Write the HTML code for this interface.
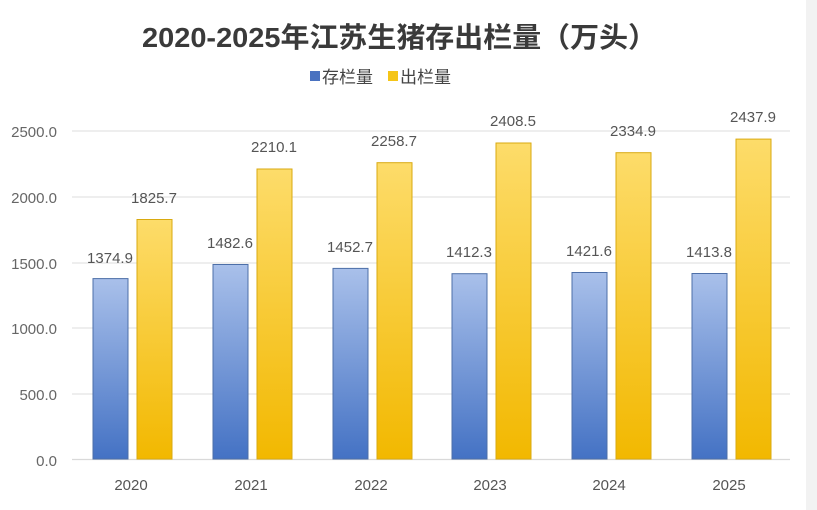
<!DOCTYPE html>
<html><head><meta charset="utf-8"><style>
html,body{margin:0;padding:0;background:#fff;}
svg{display:block;}
</style></head><body>
<svg width="817" height="510" viewBox="0 0 817 510" xmlns="http://www.w3.org/2000/svg">
<defs>
<linearGradient id="gb" x1="0" y1="0" x2="0" y2="1"><stop offset="0" stop-color="#a9c0ea"/><stop offset="1" stop-color="#4472c4"/></linearGradient>
<linearGradient id="gy" x1="0" y1="0" x2="0" y2="1"><stop offset="0" stop-color="#fddc6a"/><stop offset="1" stop-color="#f2b800"/></linearGradient>
</defs>
<rect x="0" y="0" width="817" height="510" fill="#fff"/>
<rect x="806" y="0" width="11" height="510" fill="#f2f2f2"/>
<text x="142" y="47" textLength="515" lengthAdjust="spacingAndGlyphs" font-family="Liberation Sans, Noto Sans CJK SC, sans-serif" font-size="28" font-weight="bold" fill="#3a3a3a">2020-2025年江苏生猪存出栏量（万头）</text>
<rect x="310" y="71" width="10" height="10" fill="#4a72c0"/>
<text x="322" y="83" font-family="Liberation Sans, Noto Sans CJK SC, sans-serif" font-size="17" fill="#444">存栏量</text>
<rect x="388" y="71" width="10" height="10" fill="#f5c518"/>
<text x="400" y="83" font-family="Liberation Sans, Noto Sans CJK SC, sans-serif" font-size="17" fill="#444">出栏量</text>
<g stroke="#e3e3e3" stroke-width="1.3">
<line x1="72" y1="131" x2="790" y2="131"/><line x1="72" y1="197" x2="790" y2="197"/><line x1="72" y1="263" x2="790" y2="263"/><line x1="72" y1="328" x2="790" y2="328"/><line x1="72" y1="394" x2="790" y2="394"/><line x1="72" y1="459.5" x2="790" y2="459.5" stroke="#d9d9d9"/>
</g>
<g font-family="Liberation Sans, sans-serif" font-size="15" fill="#666" text-anchor="end">
<text x="57" y="137">2500.0</text><text x="57" y="203">2000.0</text><text x="57" y="269">1500.0</text><text x="57" y="334">1000.0</text><text x="57" y="400">500.0</text><text x="57" y="466">0.0</text>
</g>
<g font-family="Liberation Sans, sans-serif" font-size="15" fill="#555" text-anchor="middle">
<rect x="93" y="278.6" width="35" height="180.4" fill="url(#gb)" stroke="#4d6fa8"/>
<rect x="137" y="219.5" width="35" height="239.5" fill="url(#gy)" stroke="#d9aa10"/>
<text x="110" y="263">1374.9</text><text x="154" y="203">1825.7</text><text x="131" y="490">2020</text>
<rect x="213" y="264.5" width="35" height="194.5" fill="url(#gb)" stroke="#4d6fa8"/>
<rect x="257" y="169" width="35" height="290" fill="url(#gy)" stroke="#d9aa10"/>
<text x="230" y="248">1482.6</text><text x="274" y="152">2210.1</text><text x="251" y="490">2021</text>
<rect x="333" y="268.4" width="35" height="190.6" fill="url(#gb)" stroke="#4d6fa8"/>
<rect x="377" y="162.7" width="35" height="296.3" fill="url(#gy)" stroke="#d9aa10"/>
<text x="350" y="252">1452.7</text><text x="394" y="146">2258.7</text><text x="371" y="490">2022</text>
<rect x="452" y="273.7" width="35" height="185.3" fill="url(#gb)" stroke="#4d6fa8"/>
<rect x="496" y="143" width="35" height="316" fill="url(#gy)" stroke="#d9aa10"/>
<text x="469" y="257">1412.3</text><text x="513" y="126">2408.5</text><text x="490" y="490">2023</text>
<rect x="572" y="272.5" width="35" height="186.5" fill="url(#gb)" stroke="#4d6fa8"/>
<rect x="616" y="152.7" width="35" height="306.3" fill="url(#gy)" stroke="#d9aa10"/>
<text x="589" y="256">1421.6</text><text x="633" y="136">2334.9</text><text x="609" y="490">2024</text>
<rect x="692" y="273.5" width="35" height="185.5" fill="url(#gb)" stroke="#4d6fa8"/>
<rect x="736" y="139.1" width="35" height="319.9" fill="url(#gy)" stroke="#d9aa10"/>
<text x="709" y="257">1413.8</text><text x="753" y="122">2437.9</text><text x="729" y="490">2025</text>
</g>
</svg>
</body></html>
